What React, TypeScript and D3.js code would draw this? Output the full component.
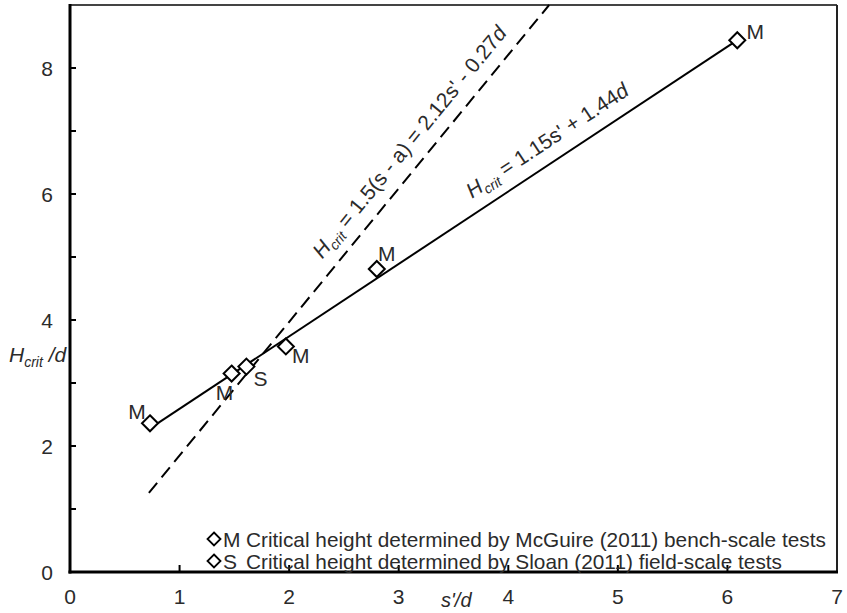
import React from 'react';
import * as d3 from 'd3';

// measured points (s'/d, Hcrit/d)
const pointX = [0.73, 1.475, 1.61, 1.97, 2.8, 6.09];
const pointY = [2.36, 3.15, 3.26, 3.58, 4.81, 8.44];
const pointLabels = ['M', 'M', 'S', 'M', 'M', 'M'];

// fitted lines
const solidFit = { slope: 1.15, intercept: 1.44, from: 0.73, to: 6.09 };
const dashedFit = { slope: 2.12, intercept: -0.27, from: 0.72 };

const xTicks = [0, 1, 2, 3, 4, 5, 6, 7];
const yTicks = [0, 1, 2, 3, 4, 5, 6, 7, 8, 9];
const yTickLabels = [0, 2, 4, 6, 8];

const legendLetters = ['M', 'S'];
const legendTexts = [
  'Critical height determined by McGuire (2011) bench-scale tests',
  'Critical height determined by Sloan (2011) field-scale tests',
];

const W = 847;
const H = 613;
const FONT = 'Liberation Sans, Arial, sans-serif';
const TEXT = '#2b2b2b';
const FS = 21;

// label offsets in px, relative to each point
const labelOffsets: [number, number][] = [
  [-13, -12], [-7, 19], [14, 12], [15, 9], [10, -15], [18, -9],
];

const diamond = (cx: number, cy: number, r: number) =>
  `M${cx},${cy - r}L${cx + r},${cy}L${cx},${cy + r}L${cx - r},${cy}Z`;

export default function App() {
  const x = d3.scaleLinear().domain([0, 7]).range([70, 837]);
  const y = d3.scaleLinear().domain([0, 9]).range([572, 5]);

  const line = d3.line<[number, number]>().x(d => x(d[0])).y(d => y(d[1]));

  const solidPts: [number, number][] = [solidFit.from, solidFit.to].map(v => [v, solidFit.slope * v + solidFit.intercept]);
  const dashedTo = (9 - dashedFit.intercept) / dashedFit.slope;
  const dashedPts: [number, number][] = [dashedFit.from, dashedTo].map(v => [v, dashedFit.slope * v + dashedFit.intercept]);

  const angleOf = (slope: number) => {
    const dx = x(1) - x(0);
    const dy = y(slope) - y(0);
    return (Math.atan2(dy, dx) * 180) / Math.PI;
  };

  const solidAnchorX = 3.74;
  const dashedAnchorX = 2.4;
  const solidAnchor = [x(solidAnchorX), y(solidFit.slope * solidAnchorX + solidFit.intercept)];
  const dashedAnchor = [x(dashedAnchorX), y(dashedFit.slope * dashedAnchorX + dashedFit.intercept)];

  return (
    <svg width={W} height={H} style={{ position: 'absolute', left: 0, top: 0, background: 'white' }} fontFamily={FONT}>
      {/* frame */}
      <line x1={x(0)} x2={x(7)} y1={y(9)} y2={y(9)} stroke="#444" strokeWidth={2} />
      <line x1={x(7)} x2={x(7)} y1={y(9)} y2={y(0)} stroke="#222" strokeWidth={2} />
      <line x1={x(0)} x2={x(0)} y1={y(9) - 1} y2={y(0) + 1.5} stroke="#000" strokeWidth={3} />
      <line x1={x(0) - 1.5} x2={x(7) + 1} y1={y(0)} y2={y(0)} stroke="#000" strokeWidth={3} />

      {/* ticks */}
      {xTicks.slice(1, -1).map(t => (
        <line key={'xt' + t} x1={x(t)} x2={x(t)} y1={y(0)} y2={y(0) - 7} stroke="#000" strokeWidth={2} />
      ))}
      {yTicks.slice(1, -1).map(t => (
        <line key={'yt' + t} x1={x(0)} x2={x(0) + 6} y1={y(t)} y2={y(t)} stroke="#000" strokeWidth={2} />
      ))}
      {xTicks.map(t => (
        <text key={'xl' + t} x={x(t)} y={604} textAnchor="middle" fontSize={FS} fill={TEXT}>{t}</text>
      ))}
      {yTickLabels.map(t => (
        <text key={'yl' + t} x={53} y={y(t) + 7.5} textAnchor="end" fontSize={FS} fill={TEXT}>{t}</text>
      ))}

      {/* axis titles */}
      <text x={441} y={607} fontSize={20} fill={TEXT} fontStyle="italic">s'/d</text>
      <text x={9} y={362} fontSize={FS} fill={TEXT} fontStyle="italic">
        <tspan>H</tspan>
        <tspan fontSize={14} dy={5}>crit</tspan>
        <tspan dy={-5}> /d</tspan>
      </text>

      {/* fitted lines */}
      <path d={line(dashedPts) || ''} fill="none" stroke="#000" strokeWidth={2} strokeDasharray="13,7" />
      <path d={line(solidPts) || ''} fill="none" stroke="#000" strokeWidth={2} />

      {/* line labels */}
      <text transform={`translate(${solidAnchor[0]},${solidAnchor[1]}) rotate(${angleOf(solidFit.slope)})`} y={-14} fontSize={FS} fill={TEXT}>
        <tspan fontStyle="italic">H</tspan>
        <tspan fontSize={14} dy={5} fontStyle="italic">crit</tspan>
        <tspan dy={-5}> = 1.15s' + 1.44</tspan>
        <tspan fontStyle="italic">d</tspan>
      </text>
      <text transform={`translate(${dashedAnchor[0]},${dashedAnchor[1]}) rotate(${angleOf(dashedFit.slope)})`} y={-14} fontSize={FS} fill={TEXT}>
        <tspan fontStyle="italic">H</tspan>
        <tspan fontSize={14} dy={5} fontStyle="italic">crit</tspan>
        <tspan dy={-5}> = 1.5(s - a) = 2.12s' - 0.27</tspan>
        <tspan fontStyle="italic">d</tspan>
      </text>

      {/* points */}
      {pointX.map((px, i) => (
        <g key={'p' + i}>
          <path d={diamond(x(px), y(pointY[i]), 8)} fill="white" stroke="#000" strokeWidth={2} />
          <text x={x(px) + labelOffsets[i][0]} y={y(pointY[i]) + labelOffsets[i][1] + 7.5} textAnchor="middle" fontSize={FS} fill={TEXT}>
            {pointLabels[i]}
          </text>
        </g>
      ))}

      {/* legend */}
      {legendTexts.map((t, i) => (
        <g key={'lg' + i}>
          <path d={diamond(214, 539 + i * 22, 6.5)} fill="white" stroke="#000" strokeWidth={1.8} />
          <text x={223} y={546.5 + i * 22} fontSize={FS} fill={TEXT}>{legendLetters[i]}</text>
          <text x={246} y={546.5 + i * 22} fontSize={20.8} fill={TEXT}>{t}</text>
        </g>
      ))}
    </svg>
  );
}
